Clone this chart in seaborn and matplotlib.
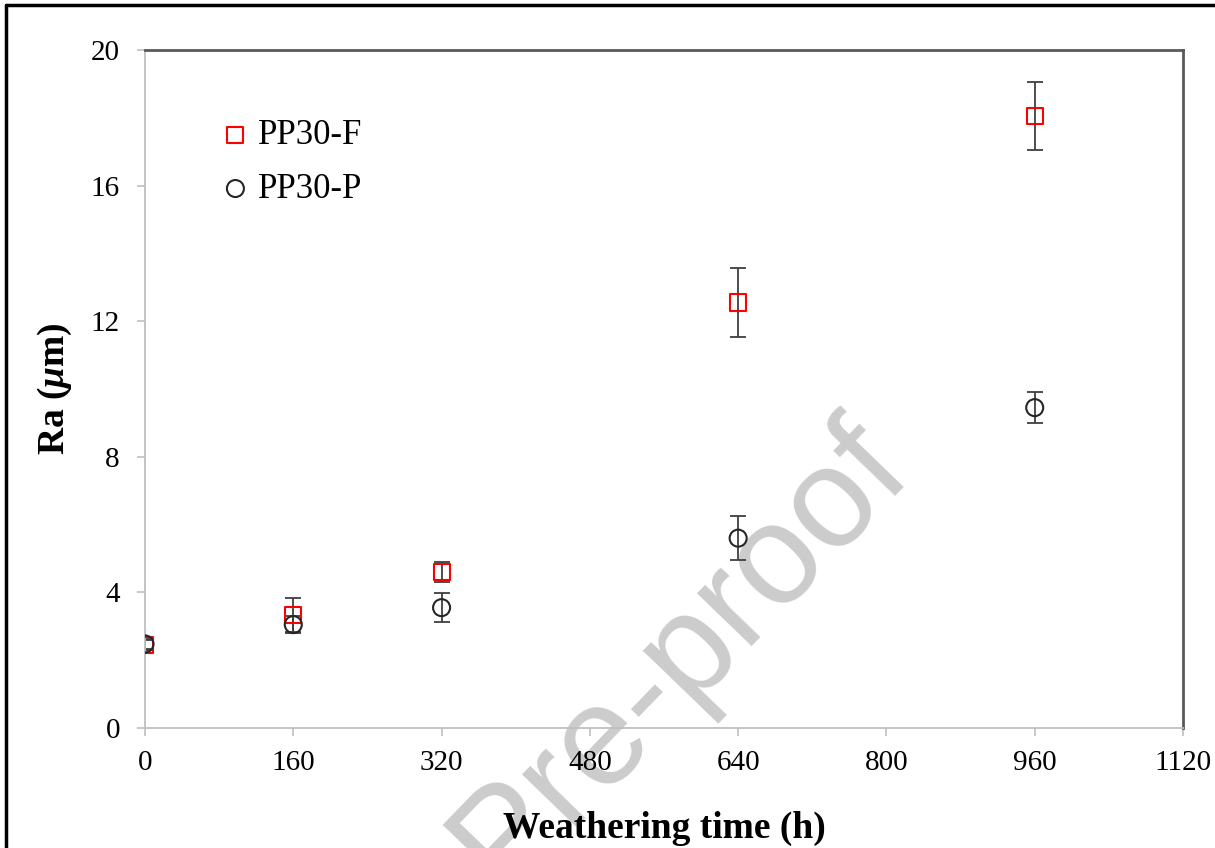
import numpy as np
import pandas as pd
import matplotlib
matplotlib.use("Agg")
import matplotlib.pyplot as plt
import seaborn as sns

# ---- data ----
time_h = [0, 160, 320, 640, 960]
ra_f = [2.45, 3.33, 4.60, 12.55, 18.05]
err_f = [0.15, 0.50, 0.30, 1.03, 1.00]
ra_p = [2.48, 3.05, 3.55, 5.60, 9.45]
err_p = [0.15, 0.25, 0.42, 0.65, 0.45]
series_names = ["PP30-F", "PP30-P"]
x_ticks = [0, 160, 320, 480, 640, 800, 960, 1120]
y_ticks = [0, 4, 8, 12, 16, 20]

sns.set_theme(style="white")
plt.rcParams['font.family'] = ['Liberation Serif', 'DejaVu Serif']
plt.rcParams['text.color'] = 'black'
plt.rcParams['axes.labelcolor'] = 'black'
plt.rcParams['xtick.color'] = 'black'
plt.rcParams['ytick.color'] = 'black'
plt.rcParams['mathtext.fontset'] = 'custom'
plt.rcParams['mathtext.rm'] = 'Liberation Serif:bold'
plt.rcParams['mathtext.it'] = 'Liberation Serif:italic:bold'
plt.rcParams['mathtext.bf'] = 'Liberation Serif:bold'

fig = plt.figure(figsize=(12.15, 8.48), dpi=100)
ax = fig.add_axes([145/1215, 1-728/848, (1183-145)/1215, (728-50)/848])
ax.patch.set_alpha(0)

df_f = pd.DataFrame({"t": time_h, "ra": ra_f})
df_p = pd.DataFrame({"t": time_h, "ra": ra_p})

ax.errorbar(time_h, ra_f, yerr=err_f, fmt='none', ecolor='#3f3f3f',
            elinewidth=1.3, capsize=6, capthick=1.3, zorder=2)
ax.errorbar(time_h, ra_p, yerr=err_p, fmt='none', ecolor='#3f3f3f',
            elinewidth=1.3, capsize=6, capthick=1.3, zorder=2)

sns.scatterplot(data=df_f, x="t", y="ra", ax=ax, marker='s', s=135,
                color='red', facecolor='none', edgecolor='red',
                linewidth=1.5, label=series_names[0], zorder=3)
sns.scatterplot(data=df_p, x="t", y="ra", ax=ax, marker='o', s=150,
                color='#262626', facecolor='none', edgecolor='#262626',
                linewidth=1.5, label=series_names[1], zorder=3)

ax.set_xlim(0, 1120)
ax.set_ylim(0, 20)
ax.set_xticks(x_ticks)
ax.set_yticks(y_ticks)
ax.set_xticklabels([str(v) for v in x_ticks])
ax.set_yticklabels([str(v) for v in y_ticks])
ax.tick_params(axis='both', direction='out', length=6, width=1.2,
               color='#bfbfbf', labelsize=21, labelcolor='black')
ax.tick_params(axis='x', pad=10, bottom=True, top=False)
ax.tick_params(axis='y', pad=12, left=True, right=False)

for side in ['left', 'bottom']:
    ax.spines[side].set_color('#bfbfbf')
    ax.spines[side].set_linewidth(1.3)
for side in ['top', 'right']:
    ax.spines[side].set_color('#595959')
    ax.spines[side].set_linewidth(2)
    ax.spines[side].set_visible(True)
ax.grid(False)

ax.set_xlabel("Weathering time (h)", fontsize=27, fontweight='bold', labelpad=25,
              color='black')
ax.set_ylabel(r"Ra ($\mu$m)", fontsize=27, fontweight='bold', labelpad=12,
              color='black')

leg = ax.legend(loc='upper left', bbox_to_anchor=(0.057, 0.919), frameon=False,
                fontsize=25, handletextpad=0.15, labelspacing=0.6,
                borderaxespad=0, handlelength=1.0)
for t in leg.get_texts():
    t.set_color('black')

# figure border (left and top visible in the crop)
fig.add_artist(plt.Line2D([6/1215, 6/1215], [0, 1-5/848], color='black', lw=2.5,
                          transform=fig.transFigure))
fig.add_artist(plt.Line2D([6/1215, 1], [1-5/848, 1-5/848], color='black', lw=2.5,
                          transform=fig.transFigure))

# watermark (behind the plotted data)
fig.text(680/1215, 1-655/848, "Pre-proof", fontsize=102, color='#cccccc',
         family='Liberation Sans', rotation=46, ha='center', va='center',
         rotation_mode='anchor', zorder=-1)

fig.savefig("out.png", dpi=100)
